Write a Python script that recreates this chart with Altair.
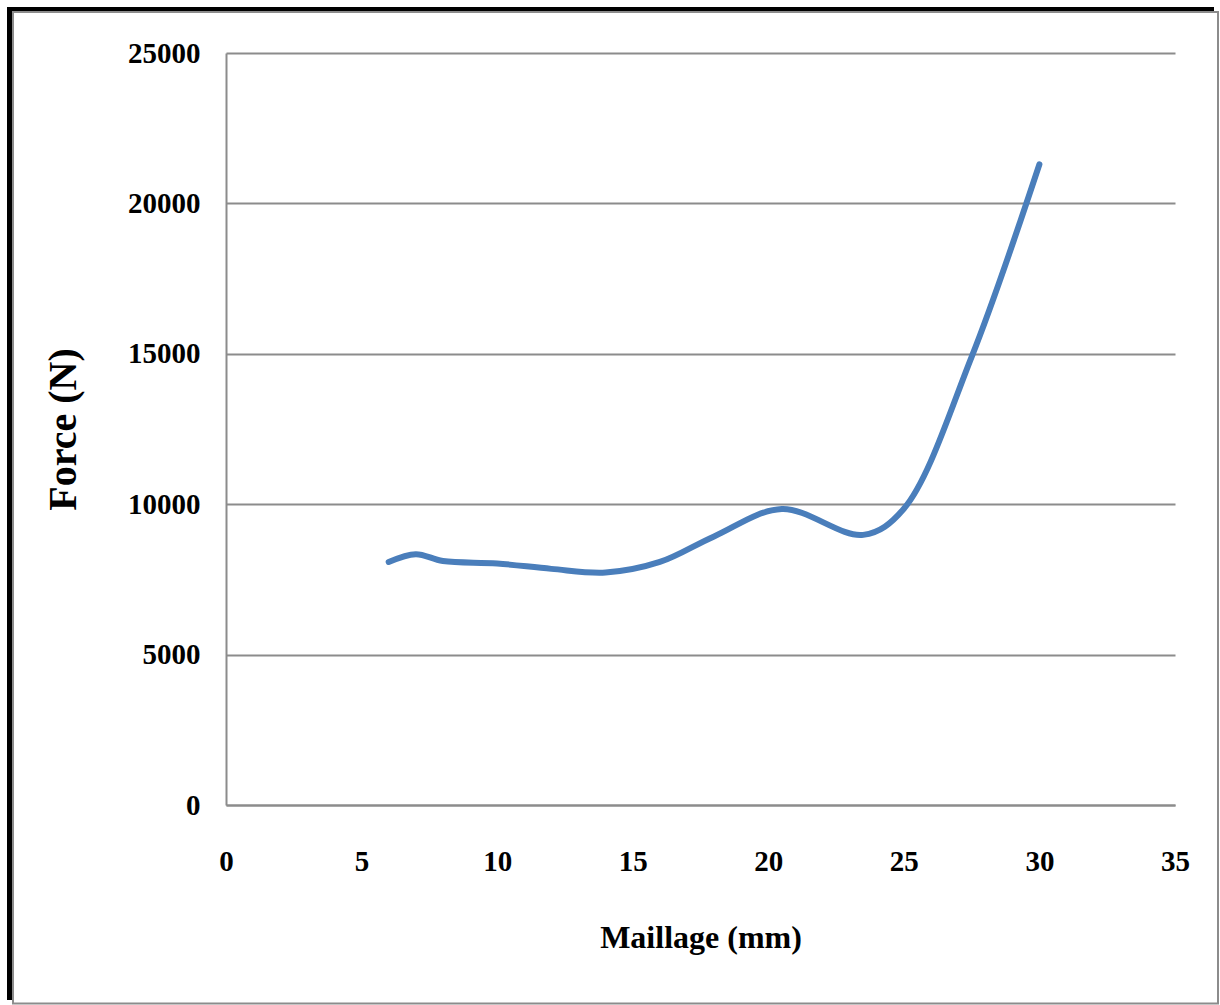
import altair as alt
import pandas as pd

# Data
maillage = [6, 7, 8, 10, 12, 14, 16, 18, 20.5, 23.5, 25, 27.5, 30]
force = [8080, 8340, 8110, 8030, 7850, 7730, 8080, 8930, 9840, 8980, 9850, 14900, 21300]

x_ticks = [0, 5, 10, 15, 20, 25, 30, 35]
y_ticks = [0, 5000, 10000, 15000, 20000, 25000]

df = pd.DataFrame({"Maillage": maillage, "Force": force})
one = pd.DataFrame({"k": [0]})

FONT = "Liberation Serif"
W, H = 949, 752

# decorative frame (black shadow on left/top, gray border)
left_strip = alt.Chart(one).mark_rect(color="black").encode(
    x=alt.value(-219), x2=alt.value(-214), y=alt.value(-46), y2=alt.value(947)
)
top_strip = alt.Chart(one).mark_rect(color="black").encode(
    x=alt.value(-219), x2=alt.value(988), y=alt.value(-46), y2=alt.value(-41)
)
border = alt.Chart(one).mark_rect(fill=None, stroke="#8c8c8c", strokeWidth=2).encode(
    x=alt.value(-213), x2=alt.value(992), y=alt.value(-41), y2=alt.value(950.5)
)

line = alt.Chart(df).mark_line(
    color="#4a7ebb", strokeWidth=6, interpolate="catmull-rom", strokeCap="round", strokeJoin="round"
).encode(
    x=alt.X(
        "Maillage:Q",
        scale=alt.Scale(domain=[0, 35], nice=False, zero=True),
        axis=alt.Axis(
            values=x_ticks, title="Maillage (mm)", grid=False, ticks=False, tickSize=0,
            labelPadding=42, titlePadding=46, domainColor="#8c8c8c", domainWidth=2,
            labelFont=FONT, labelFontSize=29, labelFontWeight="bold", labelColor="black",
            titleFont=FONT, titleFontSize=32, titleFontWeight="bold", titleColor="black",
            labelFlush=False, format="d",
        ),
    ),
    y=alt.Y(
        "Force:Q",
        scale=alt.Scale(domain=[0, 25000], nice=False),
        axis=alt.Axis(
            values=y_ticks, title="Force (N)", grid=True, gridColor="#8c8c8c", gridWidth=2,
            ticks=False, tickSize=0, labelPadding=26, titlePadding=44,
            domainColor="#8c8c8c", domainWidth=2,
            labelFont=FONT, labelFontSize=29, labelFontWeight="bold", labelColor="black",
            titleFont=FONT, titleFontSize=40, titleFontWeight="bold", titleColor="black",
            labelFlush=False, format="d",
        ),
    ),
)

chart = alt.layer(left_strip, top_strip, border, line).properties(
    width=W, height=H,
    autosize=alt.AutoSizeParams(type="none"),
    padding={"left": 226, "top": 53, "right": 45, "bottom": 200},
    background="white",
).configure_view(stroke=None)

chart.save("out.html", embed_options={"renderer": "svg", "actions": False})
